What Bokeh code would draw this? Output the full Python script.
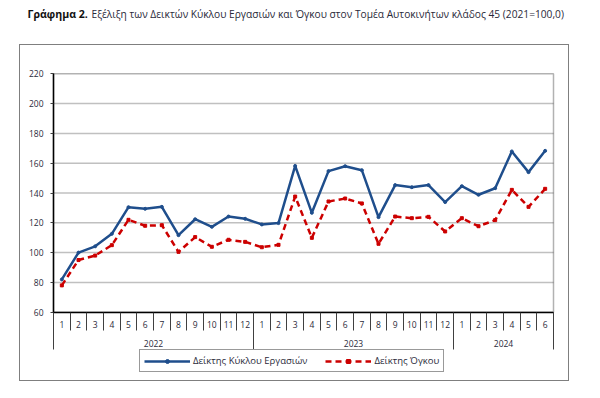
from bokeh.plotting import figure
from bokeh.models import (Range1d, FixedTicker, LinearAxis, Legend, LegendItem, Label,
                          BoxAnnotation, InlineStyleSheet)
from bokeh.embed import file_html
from bokeh.resources import INLINE

# ---- data ----
months = ["1", "2", "3", "4", "5", "6", "7", "8", "9", "10", "11", "12",
          "1", "2", "3", "4", "5", "6", "7", "8", "9", "10", "11", "12",
          "1", "2", "3", "4", "5", "6"]
years = ["2022", "2023", "2024"]
year_lengths = [12, 12, 6]
turnover = [82.0, 100.0, 104.2, 112.6, 130.5, 129.4, 130.7, 111.7, 122.4, 117.3, 124.2, 122.7,
            118.9, 119.8, 158.2, 126.7, 154.7, 158.0, 155.3, 123.8, 145.3, 143.9, 145.3, 133.9,
            144.6, 138.8, 143.2, 167.9, 154.0, 168.3]
volume = [78.0, 95.0, 98.0, 105.0, 122.0, 118.0, 118.4, 100.5, 110.4, 103.9, 108.6, 107.2,
          103.6, 105.2, 137.6, 109.9, 134.3, 136.3, 133.0, 105.9, 124.2, 123.1, 124.0, 114.2,
          123.1, 117.7, 121.8, 142.1, 130.7, 142.8]
y_ticks = [60, 80, 100, 120, 140, 160, 180, 200, 220]
label_turnover = "Δείκτης Κύκλου Εργασιών"
label_volume = "Δείκτης Όγκου"
title_bold = "Γράφημα 2."
title_rest = "Εξέλιξη των Δεικτών Κύκλου Εργασιών και Όγκου στον Τομέα Αυτοκινήτων κλάδος 45 (2021=100,0)"

FONT = "Open Sans"
TXT = "#2a2a3a"
BLUE = "#1F4E8C"
RED = "#CC0000"

W, H = 600, 398
# plot area in page pixels
PL, PR, PT, PB = 53.0, 553.0, 73.3, 311.7
# outer chart-area border in page pixels
OL, OR, OT, OB = 20.0, 568.0, 45.0, 380.0

n = len(months)
xs = [i + 0.5 for i in range(n)]
ymin, ymax = y_ticks[0], y_ticks[-1]
kx = (PR - PL) / n
ky = (PB - PT) / (ymax - ymin)


def dx(px):
    return (px - PL) / kx


def dy(py):
    return ymin + (PB - py) / ky


p = figure(width=W, height=H,
           x_range=Range1d(dx(0), dx(W)),
           y_range=Range1d(dy(H), dy(0)),
           output_backend="svg", toolbar_location=None,
           x_axis_type=None, y_axis_type=None,
           min_border=0, min_border_left=0, min_border_right=0,
           min_border_top=0, min_border_bottom=0)
p.outline_line_color = None
p.background_fill_color = "white"
p.border_fill_color = "white"

# outer chart-area border (drawn as an overlay box on the figure element)
bw = 1.5
border_css = f"""
:host {{ position: relative; }}
:host::after {{
  content: "";
  position: absolute;
  left: {OL - bw / 2}px;
  top: {OT - bw / 2}px;
  width: {OR - OL + bw}px;
  height: {OB - OT + bw}px;
  border: {bw}px solid #7f7f7f;
  box-sizing: border-box;
  pointer-events: none;
  z-index: 5;
}}
"""
p.stylesheets = [InlineStyleSheet(css=border_css)]

# horizontal gridlines inside plot area
grid_vals = y_ticks[1:-1]
p.segment(x0=[0] * len(grid_vals), x1=[n] * len(grid_vals), y0=grid_vals, y1=grid_vals,
          line_color="#c0c0c0", line_width=1.5, level="underlay")

# y axis
yaxis = LinearAxis(ticker=FixedTicker(ticks=y_ticks, minor_ticks=[]), fixed_location=0,
                   bounds=(ymin, ymax))
yaxis.major_tick_out = 3
yaxis.major_tick_in = 0
yaxis.major_tick_line_color = "#404040"
yaxis.axis_line_color = "black"
yaxis.axis_line_width = 1.5
yaxis.major_label_standoff = 7
yaxis.major_label_text_font = FONT
yaxis.major_label_text_font_size = "8.5px"
yaxis.major_label_text_color = TXT
p.add_layout(yaxis, "left")

# x axis (months with separators)
xaxis = LinearAxis(ticker=FixedTicker(ticks=xs, minor_ticks=list(range(n + 1))),
                   fixed_location=ymin, bounds=(0, n))
xaxis.major_tick_out = 0
xaxis.major_tick_in = 0
xaxis.minor_tick_out = 18
xaxis.minor_tick_in = 0
xaxis.minor_tick_line_color = "#404040"
xaxis.axis_line_color = "black"
xaxis.axis_line_width = 1.5
xaxis.major_label_overrides = {x: m for x, m in zip(xs, months)}
xaxis.major_label_standoff = -9
xaxis.major_label_text_font = FONT
xaxis.major_label_text_font_size = "8.5px"
xaxis.major_label_text_color = TXT
p.add_layout(xaxis, "below")

# year axis (labels + long separators)
bounds = [0]
for L in year_lengths:
    bounds.append(bounds[-1] + L)
centers = [(bounds[i] + bounds[i + 1]) / 2 for i in range(len(years))]
yr_axis = LinearAxis(ticker=FixedTicker(ticks=centers, minor_ticks=bounds),
                     fixed_location=ymin, bounds=(0, n))
yr_axis.major_tick_out = 0
yr_axis.major_tick_in = 0
yr_axis.minor_tick_out = 37
yr_axis.minor_tick_in = 0
yr_axis.minor_tick_line_color = "#404040"
yr_axis.axis_line_color = None
yr_axis.major_label_overrides = {c: y for c, y in zip(centers, years)}
yr_axis.major_label_standoff = -9
yr_axis.major_label_text_font = FONT
yr_axis.major_label_text_font_size = "8.5px"
yr_axis.major_label_text_color = TXT
p.add_layout(yr_axis, "below")

# plot area frame (top / right)
p.add_layout(BoxAnnotation(left=0, right=n, bottom=ymin, top=ymax, fill_alpha=0,
                           line_color="black", line_width=1.5))

# title
p.add_layout(Label(x=27, y=H - 13, x_units="screen", y_units="screen", text=title_bold,
                   text_font=FONT, text_font_style="bold", text_font_size="10.6px",
                   text_color="#111111", text_baseline="middle"))
p.add_layout(Label(x=91, y=H - 13, x_units="screen", y_units="screen", text=title_rest,
                   text_font=FONT, text_font_size="10.2px",
                   text_color=TXT, text_baseline="middle"))

# series
bl = p.line(xs, turnover, line_color=BLUE, line_width=2.5)
bm = p.scatter(xs, turnover, size=3, color=BLUE)
rl = p.line(xs, volume, line_color=RED, line_width=2.5, line_dash="6 4")
rm = p.scatter(xs, volume, marker="square", size=3, color=RED)

legend = Legend(items=[LegendItem(label=label_turnover, renderers=[bl, bm]),
                       LegendItem(label=label_volume, renderers=[rl, rm])],
                orientation="horizontal", location=(139, H - 372))
legend.label_text_font = FONT
legend.label_text_font_size = "9.5px"
legend.label_text_color = TXT
legend.label_height = 10
legend.label_standoff = 3
legend.glyph_width = 46
legend.glyph_height = 10
legend.spacing = 18
legend.padding = 4
legend.margin = 0
legend.border_line_color = "#333333"
legend.border_line_width = 1.2
legend.background_fill_alpha = 1
p.add_layout(legend)

open("out.html", "w").write(file_html(p, INLINE))
